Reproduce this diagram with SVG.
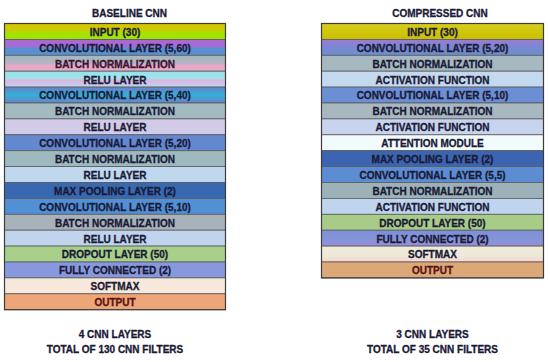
<svg xmlns="http://www.w3.org/2000/svg" width="550" height="362" viewBox="0 0 550 362">
<defs>
<linearGradient id="gInL" x1="0" y1="0" x2="0" y2="1"><stop offset="0" stop-color="#d6c600"/><stop offset="0.45" stop-color="#c8cc00"/><stop offset="0.55" stop-color="#a6e000"/><stop offset="1" stop-color="#9ee600"/></linearGradient>
<linearGradient id="gC60" x1="0" y1="0" x2="0" y2="1"><stop offset="0" stop-color="#b064d4"/><stop offset="0.45" stop-color="#a070d4"/><stop offset="0.55" stop-color="#5a8ed2"/><stop offset="1" stop-color="#5a92d2"/></linearGradient>
<linearGradient id="gBN1" x1="0" y1="0" x2="0" y2="1"><stop offset="0" stop-color="#a2b8bc"/><stop offset="0.5" stop-color="#b4b4c4"/><stop offset="0.6" stop-color="#e6a8c8"/><stop offset="1" stop-color="#e4acc8"/></linearGradient>
<linearGradient id="gR1" x1="0" y1="0" x2="0" y2="1"><stop offset="0" stop-color="#92e6ea"/><stop offset="0.45" stop-color="#a8e0ea"/><stop offset="0.6" stop-color="#dcb4e0"/><stop offset="1" stop-color="#b8d8ee"/></linearGradient>
<linearGradient id="gC40" x1="0" y1="0" x2="0" y2="1"><stop offset="0" stop-color="#6a80cc"/><stop offset="0.5" stop-color="#34b0d6"/><stop offset="1" stop-color="#6a84cc"/></linearGradient>
<linearGradient id="gInR" x1="0" y1="0" x2="0" y2="1"><stop offset="0" stop-color="#d8cc1c"/><stop offset="1" stop-color="#c8c000"/></linearGradient>
<linearGradient id="gC20R" x1="0" y1="0" x2="0" y2="1"><stop offset="0" stop-color="#9c7cd2"/><stop offset="0.5" stop-color="#7a88d2"/><stop offset="1" stop-color="#6a90d0"/></linearGradient>
<linearGradient id="gFC" x1="0" y1="0" x2="0" y2="1"><stop offset="0" stop-color="#7c90d8"/><stop offset="0.7" stop-color="#8694d8"/><stop offset="1" stop-color="#a08ad6"/></linearGradient>
<linearGradient id="gSM" x1="0" y1="0" x2="0" y2="1"><stop offset="0" stop-color="#eeecda"/><stop offset="0.6" stop-color="#eee8d8"/><stop offset="1" stop-color="#f6d4d2"/></linearGradient>
</defs>
<style>
.row{stroke:#5a5a5a;stroke-width:0.8}
.frame{fill:none;stroke:#3c3c3c;stroke-width:1.2}
.lbl{font-family:"Liberation Sans",Arial,sans-serif;font-weight:bold;font-size:10px;fill:#1a1a36;stroke:#1a1a36;stroke-width:0.3;text-anchor:middle}
.out{fill:#5a1414;stroke:#5a1414}
.mar{fill:#3a1430;stroke:#3a1430}
</style>
<g id="titles">
<text class="lbl" x="129.5" y="16.5">BASELINE CNN</text>
<text class="lbl" x="440" y="16.5">COMPRESSED CNN</text>
</g>
<g id="baseline">
<g id="b-input"><rect class="row" x="4.5" y="23.5" width="221" height="15.9" fill="url(#gInL)"/><text class="lbl" x="115" y="35.8">INPUT (30)</text></g>
<g id="b-conv1"><rect class="row" x="4.5" y="39.4" width="221" height="15.9" fill="url(#gC60)"/><text class="lbl" x="115" y="51.7">CONVOLUTIONAL LAYER (5,60)</text></g>
<g id="b-bn1"><rect class="row" x="4.5" y="55.3" width="221" height="15.9" fill="url(#gBN1)"/><text class="lbl mar" x="115" y="67.6">BATCH NORMALIZATION</text></g>
<g id="b-relu1"><rect class="row" x="4.5" y="71.2" width="221" height="15.9" fill="url(#gR1)"/><text class="lbl" x="115" y="83.5">RELU LAYER</text></g>
<g id="b-conv2"><rect class="row" x="4.5" y="87.1" width="221" height="15.9" fill="url(#gC40)"/><text class="lbl" x="115" y="99.4">CONVOLUTIONAL LAYER (5,40)</text></g>
<g id="b-bn2"><rect class="row" x="4.5" y="103" width="221" height="15.9" fill="#a2bac0"/><text class="lbl" x="115" y="115.3">BATCH NORMALIZATION</text></g>
<g id="b-relu2"><rect class="row" x="4.5" y="118.9" width="221" height="15.9" fill="#d2cbe8"/><text class="lbl" x="115" y="131.2">RELU LAYER</text></g>
<g id="b-conv3"><rect class="row" x="4.5" y="134.8" width="221" height="15.9" fill="#6488d0"/><text class="lbl" x="115" y="147.1">CONVOLUTIONAL LAYER (5,20)</text></g>
<g id="b-bn3"><rect class="row" x="4.5" y="150.7" width="221" height="15.9" fill="#9ebac0"/><text class="lbl" x="115" y="163">BATCH NORMALIZATION</text></g>
<g id="b-relu3"><rect class="row" x="4.5" y="166.6" width="221" height="15.9" fill="#c0d8ee"/><text class="lbl" x="115" y="178.9">RELU LAYER</text></g>
<g id="b-pool"><rect class="row" x="4.5" y="182.5" width="221" height="15.9" fill="#3868b0"/><text class="lbl" x="115" y="194.8">MAX POOLING LAYER (2)</text></g>
<g id="b-conv4"><rect class="row" x="4.5" y="198.4" width="221" height="15.9" fill="#5290d6"/><text class="lbl" x="115" y="210.7">CONVOLUTIONAL LAYER (5,10)</text></g>
<g id="b-bn4"><rect class="row" x="4.5" y="214.3" width="221" height="15.9" fill="#a8b2ba"/><text class="lbl" x="115" y="226.6">BATCH NORMALIZATION</text></g>
<g id="b-relu4"><rect class="row" x="4.5" y="230.2" width="221" height="15.9" fill="#c0d4ee"/><text class="lbl" x="115" y="242.5">RELU LAYER</text></g>
<g id="b-drop"><rect class="row" x="4.5" y="246.1" width="221" height="15.9" fill="#a8d08a"/><text class="lbl" x="115" y="258.4">DROPOUT LAYER (50)</text></g>
<g id="b-fc"><rect class="row" x="4.5" y="262" width="221" height="15.9" fill="#8898de"/><text class="lbl" x="115" y="274.3">FULLY CONNECTED (2)</text></g>
<g id="b-soft"><rect class="row" x="4.5" y="277.9" width="221" height="15.9" fill="#f6e8da"/><text class="lbl" x="115" y="290.2">SOFTMAX</text></g>
<g id="b-out"><rect class="row" x="4.5" y="293.8" width="221" height="15.9" fill="#eca678"/><text class="lbl out" x="115" y="306.1">OUTPUT</text></g>
<rect class="frame" x="4.5" y="23.5" width="221" height="286.2"/>
</g>
<g id="compressed">
<g id="c-input"><rect class="row" x="321.5" y="23.5" width="222" height="15.9" fill="url(#gInR)"/><text class="lbl" x="432.5" y="35.8">INPUT (30)</text></g>
<g id="c-conv1"><rect class="row" x="321.5" y="39.4" width="222" height="15.9" fill="url(#gC20R)"/><text class="lbl" x="432.5" y="51.7">CONVOLUTIONAL LAYER (5,20)</text></g>
<g id="c-bn1"><rect class="row" x="321.5" y="55.3" width="222" height="15.9" fill="#a6b8c0"/><text class="lbl" x="432.5" y="67.6">BATCH NORMALIZATION</text></g>
<g id="c-act1"><rect class="row" x="321.5" y="71.2" width="222" height="15.9" fill="#c4d8ee"/><text class="lbl" x="432.5" y="83.5">ACTIVATION FUNCTION</text></g>
<g id="c-conv2"><rect class="row" x="321.5" y="87.1" width="222" height="15.9" fill="#6c8ed4"/><text class="lbl" x="432.5" y="99.4">CONVOLUTIONAL LAYER (5,10)</text></g>
<g id="c-bn2"><rect class="row" x="321.5" y="103" width="222" height="15.9" fill="#a8b8c0"/><text class="lbl" x="432.5" y="115.3">BATCH NORMALIZATION</text></g>
<g id="c-act2"><rect class="row" x="321.5" y="118.9" width="222" height="15.9" fill="#c8d4ee"/><text class="lbl" x="432.5" y="131.2">ACTIVATION FUNCTION</text></g>
<g id="c-attn"><rect class="row" x="321.5" y="134.8" width="222" height="15.9" fill="#f2fbfb"/><text class="lbl" x="432.5" y="147.1">ATTENTION MODULE</text></g>
<g id="c-pool"><rect class="row" x="321.5" y="150.7" width="222" height="15.9" fill="#3c64b0"/><text class="lbl" x="432.5" y="163">MAX POOLING LAYER (2)</text></g>
<g id="c-conv3"><rect class="row" x="321.5" y="166.6" width="222" height="15.9" fill="#5c8cd2"/><text class="lbl" x="432.5" y="178.9">CONVOLUTIONAL LAYER (5,5)</text></g>
<g id="c-bn3"><rect class="row" x="321.5" y="182.5" width="222" height="15.9" fill="#9cb2b8"/><text class="lbl" x="432.5" y="194.8">BATCH NORMALIZATION</text></g>
<g id="c-act3"><rect class="row" x="321.5" y="198.4" width="222" height="15.9" fill="#c0d4ee"/><text class="lbl" x="432.5" y="210.7">ACTIVATION FUNCTION</text></g>
<g id="c-drop"><rect class="row" x="321.5" y="214.3" width="222" height="15.9" fill="#a8cc88"/><text class="lbl" x="432.5" y="226.6">DROPOUT LAYER (50)</text></g>
<g id="c-fc"><rect class="row" x="321.5" y="230.2" width="222" height="15.9" fill="url(#gFC)"/><text class="lbl" x="432.5" y="242.5">FULLY CONNECTED (2)</text></g>
<g id="c-soft"><rect class="row" x="321.5" y="246.1" width="222" height="15.9" fill="url(#gSM)"/><text class="lbl" x="432.5" y="258.4">SOFTMAX</text></g>
<g id="c-out"><rect class="row" x="321.5" y="262" width="222" height="15.9" fill="#dca878"/><text class="lbl out" x="432.5" y="274.3">OUTPUT</text></g>
<rect class="frame" x="321.5" y="23.5" width="222" height="254.4"/>
</g>
<g id="summary">
<text class="lbl" x="115" y="338">4 CNN LAYERS</text>
<text class="lbl" x="115" y="353">TOTAL OF 130 CNN FILTERS</text>
<text class="lbl" x="432.5" y="338">3 CNN LAYERS</text>
<text class="lbl" x="432.5" y="353">TOTAL OF 35 CNN FILTERS</text>
</g>
<g id="connectors"/>
</svg>
